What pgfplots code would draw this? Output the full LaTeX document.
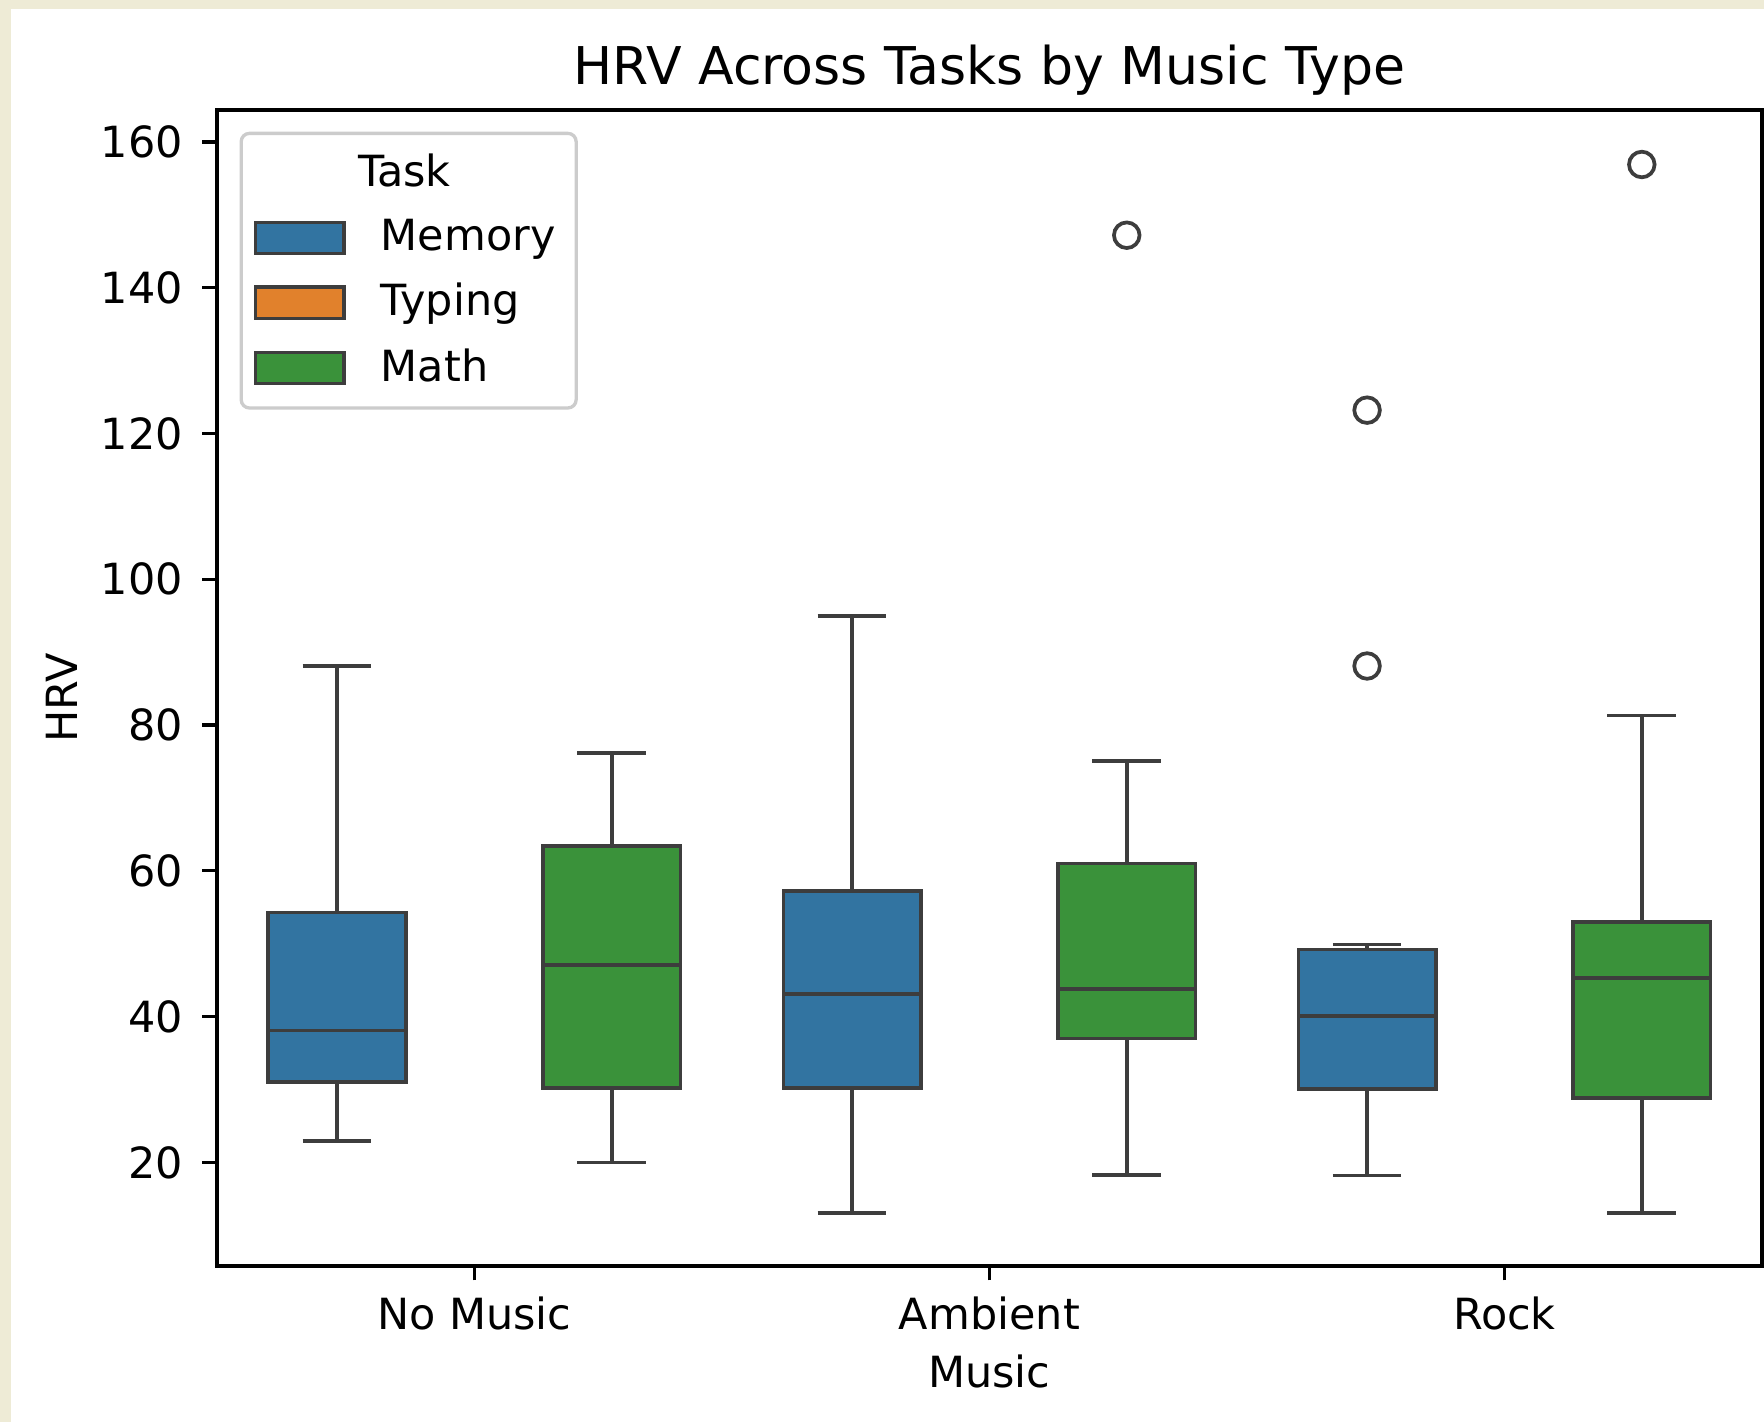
\documentclass[border=0pt]{standalone}
\usepackage{pgfplots}
\pgfplotsset{compat=1.18}
\usepackage{fontspec}
\setmainfont{DejaVu Sans}
\definecolor{memc}{HTML}{3274A1}
\definecolor{typc}{HTML}{E1812C}
\definecolor{mathc}{HTML}{3A923A}
\definecolor{linec}{HTML}{3D3D3D}
\definecolor{bgbeige}{RGB}{238,235,214}
\definecolor{legframe}{HTML}{CCCCCC}
\pgfplotsset{
  bxline/.style={draw=linec, line width=0.9pt, solid, mark=none, forget plot},
  bxfill/.style={draw=linec, line width=0.9pt, solid, mark=none, forget plot, fill=#1},
  bxout/.style={only marks, mark=o, mark size=3.1pt, forget plot,
    mark options={draw=linec, fill=white, line width=0.9pt, solid}},
}
\begin{document}
\begin{tikzpicture}
\path[use as bounding box] (0,0) rectangle (427.1pt,344.3pt);
\fill[bgbeige] (0,0) rectangle (427.1pt,344.3pt);
\fill[white] (2.66pt,0) rectangle (427.1pt,342.1pt);
\begin{axis}[
  at={(52.5pt,37.8pt)}, anchor=south west,
  scale only axis, width=374.1pt, height=279.9pt,
  xmin=-0.5, xmax=2.5, ymin=5.8, ymax=164.4,
  xtick={0,1,2}, xticklabels={No Music,Ambient,Rock},
  ytick={20,40,60,80,100,120,140,160},
  tick align=outside, tick pos=left, major tick length=3.5pt,
  every tick/.style={black, line width=0.8pt},
  axis line style={black, line width=0.9pt},
  /pgf/number format/assume math mode=true,
  tick label style={font=\fontsize{10.4}{12.5}\selectfont},
  yticklabel style={anchor=east, inner sep=0pt, xshift=-4.5pt},
  xticklabel style={anchor=base, inner sep=0pt, yshift=-11.85pt},
  title={HRV Across Tasks by Music Type},
  title style={at={(axis description cs:0.5,1)}, anchor=base, yshift=0.2pt, inner sep=0pt, font=\fontsize{12.6}{15}\selectfont},
  xlabel={Music},
  xlabel style={at={(axis description cs:0.5,0)}, anchor=base, yshift=-29.5pt, inner sep=0pt, font=\fontsize{10.4}{12.5}\selectfont},
  ylabel={HRV},
  ylabel style={at={(axis description cs:0,0.5)}, anchor=base, yshift=33.85pt, xshift=-2.5pt, inner sep=0pt, font=\fontsize{10.4}{12.5}\selectfont},
  legend cell align=left,
  legend style={at={(0,1)}, anchor=north west, xshift=5.5pt, yshift=-5.3pt,
    draw=legframe, line width=0.8pt, rounded corners=2pt, fill=white,
    font=\fontsize{10.4}{12.5}\selectfont,
    inner xsep=3pt, inner ysep=3pt, row sep=2.4pt,
    /tikz/every odd column/.append style={column sep=6.5pt}},
]
\addlegendimage{empty legend}
\addlegendentry{\rlap{\hspace*{-5.5pt}Task}}
\addlegendimage{legend image code/.code={\draw[sharp corners, line width=0.8pt, draw=linec, fill=memc] (0pt,-3.8pt) rectangle (21.5pt,3.8pt);}}
\addlegendentry{Memory}
\addlegendimage{legend image code/.code={\draw[sharp corners, line width=0.8pt, draw=linec, fill=typc] (0pt,-3.8pt) rectangle (21.5pt,3.8pt);}}
\addlegendentry{Typing}
\addlegendimage{legend image code/.code={\draw[sharp corners, line width=0.8pt, draw=linec, fill=mathc] (0pt,-3.8pt) rectangle (21.5pt,3.8pt);}}
\addlegendentry{Math}

% ---- No Music, Memory (centre -0.2667): lw 22.9, q1 31.0, med 38.1, q3 54.3, uw 88.1
\addplot[bxline] coordinates {(-0.2667,54.3) (-0.2667,88.1)};
\addplot[bxline] coordinates {(-0.2667,31.0) (-0.2667,22.9)};
\addplot[bxline] coordinates {(-0.3333,88.1) (-0.2,88.1)};
\addplot[bxline] coordinates {(-0.3333,22.9) (-0.2,22.9)};
\addplot[bxfill=memc] coordinates {(-0.4,31.0) (-0.1333,31.0) (-0.1333,54.3) (-0.4,54.3)} --cycle;
\addplot[bxline] coordinates {(-0.4,38.1) (-0.1333,38.1)};
% ---- No Music, Math (centre 0.2667): lw 20.0, q1 30.2, med 47.1, q3 63.4, uw 76.2
\addplot[bxline] coordinates {(0.2667,63.4) (0.2667,76.2)};
\addplot[bxline] coordinates {(0.2667,30.2) (0.2667,20.0)};
\addplot[bxline] coordinates {(0.2,76.2) (0.3333,76.2)};
\addplot[bxline] coordinates {(0.2,20.0) (0.3333,20.0)};
\addplot[bxfill=mathc] coordinates {(0.1333,30.2) (0.4,30.2) (0.4,63.4) (0.1333,63.4)} --cycle;
\addplot[bxline] coordinates {(0.1333,47.1) (0.4,47.1)};
% ---- Ambient, Memory (centre 0.7333): lw 13.1, q1 30.2, med 43.1, q3 57.2, uw 95.0
\addplot[bxline] coordinates {(0.7333,57.2) (0.7333,95.0)};
\addplot[bxline] coordinates {(0.7333,30.2) (0.7333,13.1)};
\addplot[bxline] coordinates {(0.6667,95.0) (0.8,95.0)};
\addplot[bxline] coordinates {(0.6667,13.1) (0.8,13.1)};
\addplot[bxfill=memc] coordinates {(0.6,30.2) (0.8667,30.2) (0.8667,57.2) (0.6,57.2)} --cycle;
\addplot[bxline] coordinates {(0.6,43.1) (0.8667,43.1)};
% ---- Ambient, Math (centre 1.2667): lw 18.3, q1 37.0, med 43.8, q3 61.0, uw 75.1, outlier 147.2
\addplot[bxline] coordinates {(1.2667,61.0) (1.2667,75.1)};
\addplot[bxline] coordinates {(1.2667,37.0) (1.2667,18.3)};
\addplot[bxline] coordinates {(1.2,75.1) (1.3333,75.1)};
\addplot[bxline] coordinates {(1.2,18.3) (1.3333,18.3)};
\addplot[bxfill=mathc] coordinates {(1.1333,37.0) (1.4,37.0) (1.4,61.0) (1.1333,61.0)} --cycle;
\addplot[bxline] coordinates {(1.1333,43.8) (1.4,43.8)};
\addplot[bxout] coordinates {(1.2667,147.2)};
% ---- Rock, Memory (centre 1.7333): lw 18.2, q1 30.1, med 40.1, q3 49.2, uw 49.9, outliers 123.2, 88.1
\addplot[bxline] coordinates {(1.7333,49.2) (1.7333,49.9)};
\addplot[bxline] coordinates {(1.7333,30.1) (1.7333,18.2)};
\addplot[bxline] coordinates {(1.6667,49.9) (1.8,49.9)};
\addplot[bxline] coordinates {(1.6667,18.2) (1.8,18.2)};
\addplot[bxfill=memc] coordinates {(1.6,30.1) (1.8667,30.1) (1.8667,49.2) (1.6,49.2)} --cycle;
\addplot[bxline] coordinates {(1.6,40.1) (1.8667,40.1)};
\addplot[bxout] coordinates {(1.7333,123.2) (1.7333,88.1)};
% ---- Rock, Math (centre 2.2667): lw 13.1, q1 28.8, med 45.3, q3 53.0, uw 81.3, outlier 156.9
\addplot[bxline] coordinates {(2.2667,53.0) (2.2667,81.3)};
\addplot[bxline] coordinates {(2.2667,28.8) (2.2667,13.1)};
\addplot[bxline] coordinates {(2.2,81.3) (2.3333,81.3)};
\addplot[bxline] coordinates {(2.2,13.1) (2.3333,13.1)};
\addplot[bxfill=mathc] coordinates {(2.1333,28.8) (2.4,28.8) (2.4,53.0) (2.1333,53.0)} --cycle;
\addplot[bxline] coordinates {(2.1333,45.3) (2.4,45.3)};
\addplot[bxout] coordinates {(2.2667,156.9)};
\end{axis}
\end{tikzpicture}
\end{document}
